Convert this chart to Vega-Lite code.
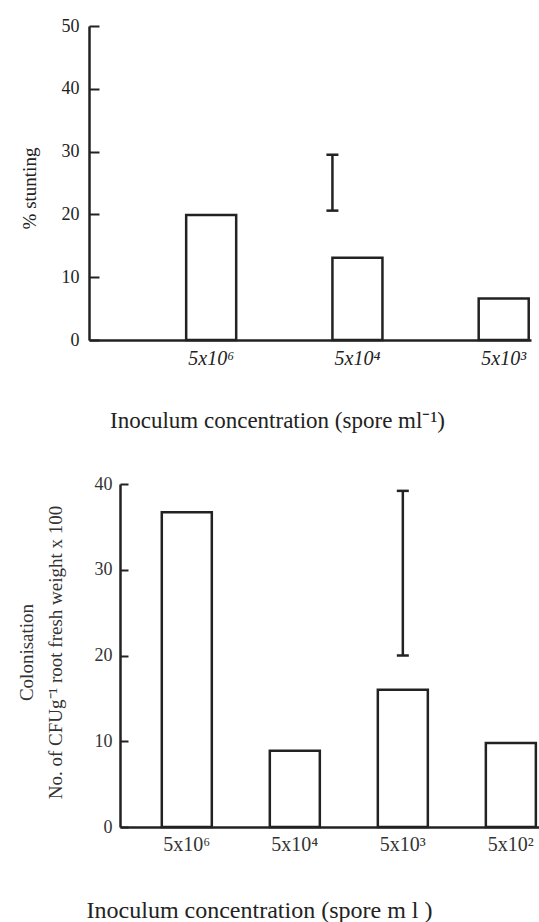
{
  "$schema": "https://vega.github.io/schema/vega-lite/v6.json",
  "padding": {"left": 16, "top": 17, "right": 0, "bottom": 0},
  "background": "white",
  "config": {
    "view": {"stroke": null},
    "font": "Liberation Serif",
    "axis": {"grid": false, "titleFontWeight": "normal", "labelFont": "Liberation Serif", "titleFont": "Liberation Serif"}
  },
  "datasets": {
    "stunting": [
      {"conc": "5x10⁶", "value": 19.9},
      {"conc": "5x10⁴", "value": 13.1},
      {"conc": "5x10³", "value": 6.6}
    ],
    "stuntingErr": [
      {"conc": "5x10⁴", "lo": 20.6, "hi": 29.5}
    ],
    "colonisation": [
      {"conc": "5x10⁶", "value": 36.7},
      {"conc": "5x10⁴", "value": 8.9},
      {"conc": "5x10³", "value": 16.0},
      {"conc": "5x10²", "value": 9.8}
    ],
    "colonisationErr": [
      {"conc": "5x10³", "lo": 20.0, "hi": 39.2}
    ]
  },
  "concat": [
    {
      "width": 442,
      "height": 314,
      "layer": [
        {
          "data": {"name": "stunting"},
          "mark": {"type": "bar", "fill": "white", "stroke": "#222", "strokeWidth": 2.5},
          "encoding": {
            "x": {
              "field": "conc", "type": "nominal",
              "scale": {"domain": ["5x10⁶", "5x10⁴", "5x10³"], "paddingInner": 0.658, "paddingOuter": 0.34, "align": 0.977},
              "axis": {
                "title": "Inoculum concentration (spore ml⁻¹)",
                "ticks": false, "labelAngle": 0, "labelPadding": 8,
                "labelFontSize": 20, "labelFontStyle": "italic", "labelColor": "#222",
                "domainColor": "#222", "domainWidth": 2.5,
                "titleFontSize": 23, "titleColor": "#222",
                "titleX": 188, "titleY": 87, "titleBaseline": "alphabetic", "titleAlign": "center"
              }
            },
            "y": {
              "field": "value", "type": "quantitative",
              "scale": {"domain": [0, 50], "nice": false},
              "axis": {
                "title": "% stunting",
                "values": [0, 10, 20, 30, 40, 50],
                "domainColor": "#222", "domainWidth": 2.5,
                "tickColor": "#222", "tickWidth": 2, "tickSize": -10,
                "labelPadding": 20, "labelFontSize": 18, "labelColor": "#222",
                "titleFontSize": 19, "titleColor": "#222",
                "titleX": -60, "titleY": 162, "titleBaseline": "middle", "titleAlign": "center"
              }
            }
          }
        },
        {
          "data": {"name": "stuntingErr"},
          "mark": {"type": "rule", "stroke": "#222", "strokeWidth": 2.5},
          "encoding": {
            "x": {"field": "conc", "type": "nominal", "bandPosition": 0},
            "y": {"field": "lo", "type": "quantitative"},
            "y2": {"field": "hi"}
          }
        },
        {
          "data": {"name": "stuntingErr"},
          "mark": {"type": "point", "shape": "stroke", "size": 144, "filled": false, "stroke": "#222", "strokeWidth": 2.5, "opacity": 1},
          "encoding": {
            "x": {"field": "conc", "type": "nominal", "bandPosition": 0},
            "y": {"field": "lo", "type": "quantitative"}
          }
        },
        {
          "data": {"name": "stuntingErr"},
          "mark": {"type": "point", "shape": "stroke", "size": 144, "filled": false, "stroke": "#222", "strokeWidth": 2.5, "opacity": 1},
          "encoding": {
            "x": {"field": "conc", "type": "nominal", "bandPosition": 0},
            "y": {"field": "hi", "type": "quantitative"}
          }
        }
      ]
    },
    {
      "width": 450,
      "height": 343,
      "layer": [
        {
          "data": {"name": "colonisation"},
          "mark": {"type": "bar", "fill": "white", "stroke": "#222", "strokeWidth": 2.5},
          "encoding": {
            "x": {
              "field": "conc", "type": "nominal",
              "scale": {"domain": ["5x10⁶", "5x10⁴", "5x10³", "5x10²"], "range": [31, 450], "paddingInner": 0.537, "paddingOuter": 0.208, "align": 0.93},
              "axis": {
                "title": "Inoculum concentration (spore m l )",
                "ticks": false, "labelAngle": 0, "labelPadding": 7,
                "labelFontSize": 20, "labelColor": "#333",
                "domainColor": "#222", "domainWidth": 2.5,
                "titleFontSize": 24, "titleColor": "#222",
                "titleX": 170, "titleY": 90, "titleBaseline": "alphabetic", "titleAlign": "center"
              }
            },
            "y": {
              "field": "value", "type": "quantitative",
              "scale": {"domain": [0, 40], "nice": false},
              "axis": {
                "title": ["Colonisation", "No. of CFUg⁻¹  root fresh weight x 100"],
                "values": [0, 10, 20, 30, 40],
                "offset": -31,
                "domainColor": "#222", "domainWidth": 2.5,
                "tickColor": "#222", "tickWidth": 2, "tickSize": -8,
                "labelPadding": 16, "labelFontSize": 18, "labelColor": "#333",
                "titleFontSize": 19, "titleColor": "#333", "titleLineHeight": 29,
                "titleX": -94, "titleY": 168, "titleBaseline": "middle", "titleAlign": "center"
              }
            }
          }
        },
        {
          "data": {"name": "colonisationErr"},
          "mark": {"type": "rule", "stroke": "#222", "strokeWidth": 2.5},
          "encoding": {
            "x": {"field": "conc", "type": "nominal"},
            "y": {"field": "lo", "type": "quantitative"},
            "y2": {"field": "hi"}
          }
        },
        {
          "data": {"name": "colonisationErr"},
          "mark": {"type": "tick", "orient": "horizontal", "size": 12, "thickness": 2.5, "color": "#222", "opacity": 1},
          "encoding": {
            "x": {"field": "conc", "type": "nominal"},
            "y": {"field": "lo", "type": "quantitative"}
          }
        },
        {
          "data": {"name": "colonisationErr"},
          "mark": {"type": "tick", "orient": "horizontal", "size": 12, "thickness": 2.5, "color": "#222", "opacity": 1},
          "encoding": {
            "x": {"field": "conc", "type": "nominal"},
            "y": {"field": "hi", "type": "quantitative"}
          }
        }
      ]
    }
  ],
  "columns": 1,
  "spacing": 43
}
